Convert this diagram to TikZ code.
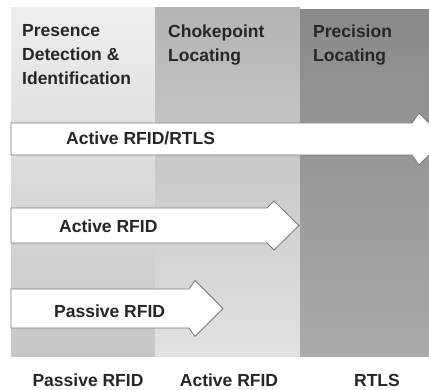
\documentclass[tikz,border=0pt]{standalone}
\usepackage{fontspec}
\setmainfont{Liberation Sans}
\usepackage{tikz}
\definecolor{textgray}{RGB}{38, 38, 38}
\definecolor{edgegray}{RGB}{120, 120, 120}
\definecolor{presencetop}{RGB}{238, 238, 238}
\definecolor{presencemid}{RGB}{228, 228, 228}
\definecolor{presencebot}{RGB}{198, 198, 198}
\definecolor{choketop}{RGB}{180, 180, 180}
\definecolor{chokebot}{RGB}{226, 226, 226}
\definecolor{precisetop}{RGB}{138, 138, 138}
\definecolor{precisemid}{RGB}{160, 160, 160}
\definecolor{precisebot}{RGB}{170, 170, 170}

\begin{document}
\begin{tikzpicture}[x=1pt, y=-1pt,
    heading/.style={anchor=north west, inner sep=0pt, align=left, font=\bfseries\fontsize{17.5}{24}\selectfont, text=textgray},
    bigarrow/.style={draw=edgegray, fill=white, line width=0.8pt},
    arrowlabel/.style={anchor=base west, inner sep=0pt, font=\bfseries\fontsize{17.5}{24}\selectfont, text=textgray},
    techlabel/.style={anchor=base, inner sep=0pt, font=\bfseries\fontsize{17.5}{24}\selectfont, text=textgray}
]
\useasboundingbox (0,0) rectangle (429,390);
\clip (0,0) rectangle (429,390);

% Capability bands
\shade[top color=presencetop, middle color=presencemid, bottom color=presencebot] (11,8) rectangle (155,357);
\shade[top color=choketop, bottom color=chokebot] (155,8) rectangle (300,357);
\shade[top color=precisetop, middle color=precisemid, bottom color=precisebot] (300,10) rectangle (429,357);

\node[heading] (presence) at (22,24.5) {Presence\\Detection \&\\Identification};
\node[heading] (chokepoint) at (168,24.5) {Chokepoint\\Locating};
\node[heading] (precision) at (313,24.5) {Precision\\Locating};

% Technology reach
\draw[bigarrow] (11,123) -- (412,123) -- (419,113) -- (445,139) -- (419,165) -- (412,155) -- (11,155) -- cycle;
\draw[bigarrow] (11,208) -- (267,208) -- (274,201) -- (299,225.5) -- (274,250) -- (267,243) -- (11,243) -- cycle;
\draw[bigarrow] (11,289) -- (189,289) -- (195,280.5) -- (223,308.5) -- (195,336.5) -- (189,328) -- (11,328) -- cycle;

\node[arrowlabel] (rtlsarrow) at (66,145) {Active RFID/RTLS};
\node[arrowlabel] (activearrow) at (59,232.5) {Active RFID};
\node[arrowlabel] (passivearrow) at (54,318) {Passive RFID};

% Column footers
\node[techlabel] (passive) at (88,387) {Passive RFID};
\node[techlabel] (active) at (229,387) {Active RFID};
\node[techlabel] (rtls) at (377,387) {RTLS};

\end{tikzpicture}
\end{document}
